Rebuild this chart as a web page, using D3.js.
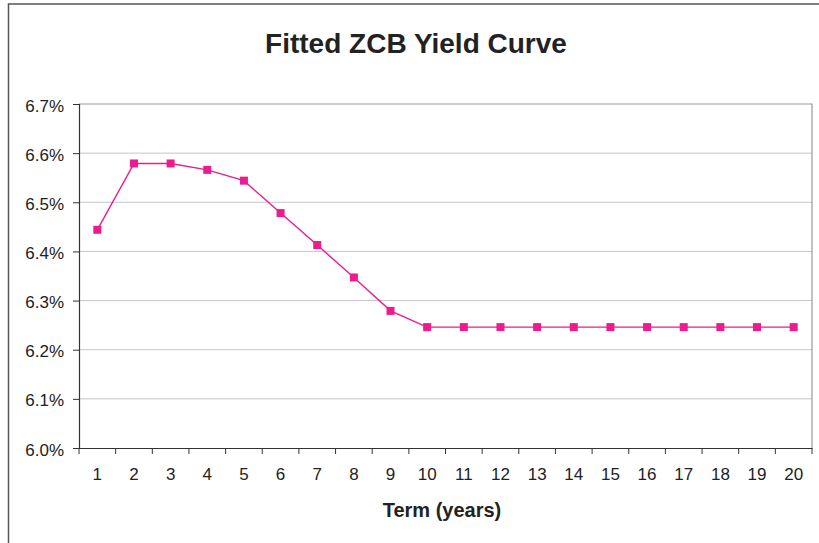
<!DOCTYPE html>
<html>
<head>
<meta charset="utf-8">
<script src="https://cdn.jsdelivr.net/npm/d3@7"></script>
<style>
  body { margin: 0; background: #fff; }
  svg { display: block; font-family: Arial, "Liberation Sans", sans-serif; }
</style>
</head>
<body>
<div id="chart"></div>
<script>
// Chart data
const terms = d3.range(1, 21);
const yields = [6.444, 6.579, 6.579, 6.566, 6.544, 6.478, 6.413, 6.347, 6.279,
  6.246, 6.246, 6.246, 6.246, 6.246, 6.246, 6.246, 6.246, 6.246, 6.246, 6.246];
const yTicks = [6.0, 6.1, 6.2, 6.3, 6.4, 6.5, 6.6, 6.7];

const width = 819, height = 543;
const margin = { top: 104, right: 7, bottom: 95, left: 79 };
const innerW = width - margin.left - margin.right;
const innerH = height - margin.top - margin.bottom;

const svg = d3.select('#chart').append('svg')
  .attr('width', width)
  .attr('height', height);

// outer chart frame (runs off the right/bottom edges)
svg.append('path')
  .attr('d', `M8.5,${height + 2} V4 H${width + 2}`)
  .attr('fill', 'none')
  .attr('stroke', '#555')
  .attr('stroke-width', 1.5);

// title
svg.append('text')
  .attr('x', 416)
  .attr('y', 53)
  .attr('text-anchor', 'middle')
  .attr('font-size', 28)
  .attr('font-weight', 'bold')
  .attr('fill', '#222')
  .text('Fitted ZCB Yield Curve');

const g = svg.append('g')
  .attr('transform', `translate(${margin.left},${margin.top})`);

// scales
const x = d3.scaleBand().domain(terms).range([0, innerW]);
const y = d3.scaleLinear().domain([6.0, 6.7]).range([innerH, 0]);

// gridlines
g.selectAll('.grid')
  .data(yTicks.slice(1, -1))
  .enter()
  .append('line')
  .attr('x1', 0)
  .attr('x2', innerW)
  .attr('y1', (d) => y(d))
  .attr('y2', (d) => y(d))
  .attr('stroke', '#c4c4cc')
  .attr('stroke-width', 1);

// plot border top / right
g.append('path')
  .attr('d', `M0,${y(6.7)} H${innerW} V${innerH}`)
  .attr('fill', 'none')
  .attr('stroke', '#999')
  .attr('stroke-width', 1.2);

// y axis
const yAxis = d3.axisLeft(y)
  .tickValues(yTicks)
  .tickFormat((d) => d.toFixed(1) + '%')
  .tickSize(6)
  .tickPadding(9);

const yG = g.append('g').call(yAxis);
yG.attr('font-size', 17);
yG.select('.domain').attr('stroke', '#333').attr('stroke-width', 1.2);
yG.selectAll('.tick line').attr('stroke', '#333');
yG.selectAll('.tick text')
  .attr('dy', '0.42em')
  .attr('fill', '#222');

// x axis: ticks on band boundaries
const xAxis = d3.axisBottom(x).tickSize(0).tickPadding(20);
const xG = g.append('g')
  .attr('transform', `translate(0,${innerH})`)
  .call(xAxis);
xG.attr('font-size', 17);
xG.select('.domain').attr('stroke', '#333').attr('stroke-width', 1.2);
xG.selectAll('.tick text')
  .attr('fill', '#222');

g.append('g')
  .selectAll('line')
  .data(terms.concat([null]))
  .enter()
  .append('line')
  .attr('x1', (d, i) => i * x.step())
  .attr('x2', (d, i) => i * x.step())
  .attr('y1', innerH)
  .attr('y2', innerH + 6)
  .attr('stroke', '#333');

// x axis title
svg.append('text')
  .attr('x', 442)
  .attr('y', 517)
  .attr('text-anchor', 'middle')
  .attr('font-size', 20)
  .attr('font-weight', 'bold')
  .attr('fill', '#222')
  .text('Term (years)');

// line + markers
const data = terms.map((t, i) => ({ term: t, value: yields[i] }));
const cx = (d) => x(d.term) + x.bandwidth() / 2;

g.append('path')
  .datum(data)
  .attr('fill', 'none')
  .attr('stroke', '#ec1c8c')
  .attr('stroke-width', 1.4)
  .attr('d', d3.line().x(cx).y((d) => y(d.value)));

g.selectAll('.marker')
  .data(data)
  .enter()
  .append('rect')
  .attr('x', (d) => cx(d) - 4)
  .attr('y', (d) => y(d.value) - 4)
  .attr('width', 8)
  .attr('height', 8)
  .attr('fill', '#ec1c8c');
</script>
</body>
</html>
